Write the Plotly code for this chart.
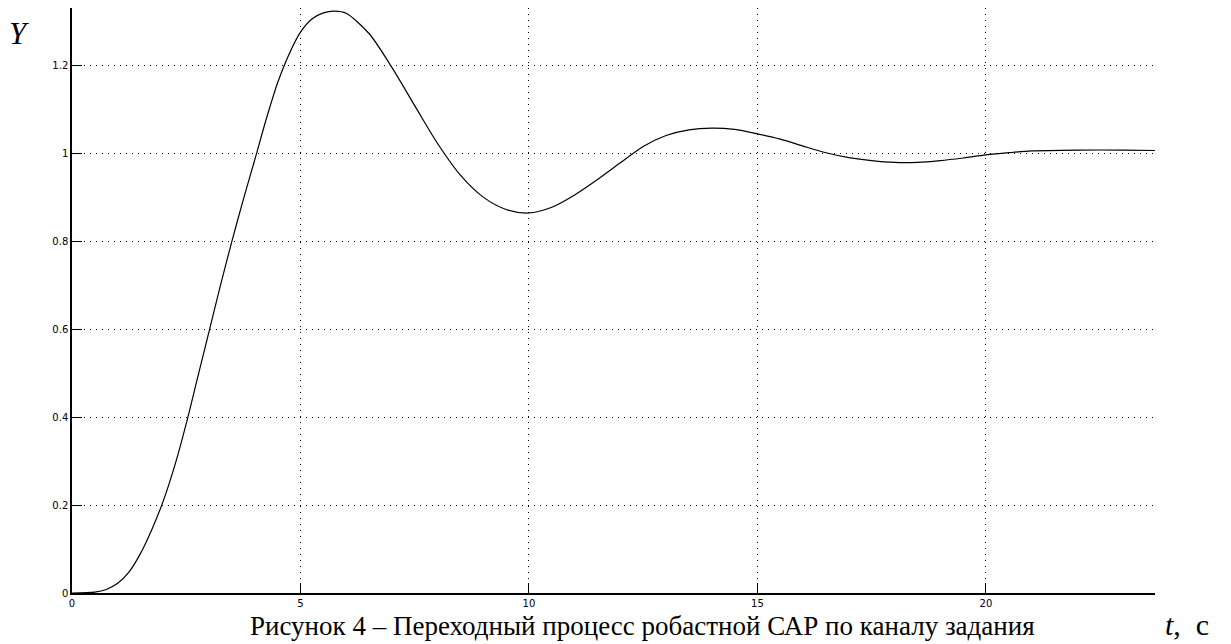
import plotly.graph_objects as go

t_values = [0, 0.5, 0.75, 1.0, 1.25, 1.5, 1.75, 2.0, 2.25, 2.5, 2.75, 3.0, 3.25,
            3.5, 3.75, 4.0, 4.25, 4.5, 4.75, 5.0, 5.25, 5.5, 5.75, 6.0, 6.5,
            7.0, 7.5, 8.0, 8.5, 9.0, 9.5, 10.0, 10.5, 11.0, 11.5, 12.0, 12.5,
            13.0, 13.5, 14.0, 14.5, 15.0, 15.5, 16.0, 16.5, 17.0, 17.5, 18.0,
            18.5, 19.0, 19.5, 20.0, 20.5, 21.0, 22.0, 23.0, 23.7]
y_values = [0, 0.002, 0.008, 0.022, 0.048, 0.09, 0.145, 0.21, 0.29, 0.385, 0.49, 0.595, 0.70,
            0.80, 0.895, 0.985, 1.077, 1.16, 1.225, 1.275, 1.305, 1.319, 1.323, 1.318, 1.272,
            1.195, 1.108, 1.022, 0.950, 0.900, 0.872, 0.864, 0.877, 0.905, 0.940, 0.978, 1.015,
            1.040, 1.053, 1.057, 1.054, 1.044, 1.032, 1.016, 1.001, 0.990, 0.983, 0.979,
            0.979, 0.983, 0.989, 0.996, 1.001, 1.005, 1.007, 1.007, 1.006]

x_ticks = [0, 5, 10, 15, 20]
x_tick_labels = ["0", "5", "10", "15", "20"]
y_ticks = [0, 0.2, 0.4, 0.6, 0.8, 1.0, 1.2]
y_tick_labels = ["0", "0.2", "0.4", "0.6", "0.8", "1", "1.2"]

y_label = "Y"
x_label = "<i>t</i>,&nbsp;&nbsp;с"
caption = "Рисунок 4 – Переходный процесс робастной САР по каналу задания"

fig = go.Figure()
fig.add_trace(go.Scatter(
    x=t_values, y=y_values, mode="lines",
    line=dict(color="black", width=1.2, shape="spline", smoothing=0.8),
    showlegend=False, hoverinfo="skip",
))

axis_common = dict(
    showgrid=True, gridcolor="black", griddash="1px,5px", gridwidth=1.3,
    zeroline=False, showline=True, linecolor="black", linewidth=1.5,
    ticks="inside", ticklen=10, tickcolor="black", tickwidth=1,
    tickfont=dict(family="DejaVu Sans", size=10, color="black"),
    mirror=False, automargin=False,
)

# page has an 8px body margin, so the figure is sized to fit the window
fig.update_layout(
    width=1223, height=636,
    margin=dict(l=64, r=76, t=0, b=51),
    paper_bgcolor="white", plot_bgcolor="white",
    xaxis=dict(range=[0, 23.7], tickvals=x_ticks, ticktext=x_tick_labels, **axis_common),
    yaxis=dict(range=[0, 1.33], tickvals=y_ticks, ticktext=y_tick_labels, **axis_common),
)

fig.add_annotation(text="<i>" + y_label + "</i>", xref="paper", yref="paper",
                   x=-0.0600, y=0.990, xanchor="left", yanchor="top", showarrow=False,
                   font=dict(family="Liberation Serif", size=31, color="black"))
fig.add_annotation(text=x_label, xref="paper", yref="paper",
                   x=1.0075, y=-0.022, xanchor="left", yanchor="top", showarrow=False,
                   font=dict(family="Liberation Serif", size=30, color="black"))
fig.add_annotation(text=caption, xref="paper", yref="paper",
                   x=0.527, y=-0.028, xanchor="center", yanchor="top", showarrow=False,
                   font=dict(family="Liberation Serif", size=27, color="black"))

fig.write_html("out.html")
